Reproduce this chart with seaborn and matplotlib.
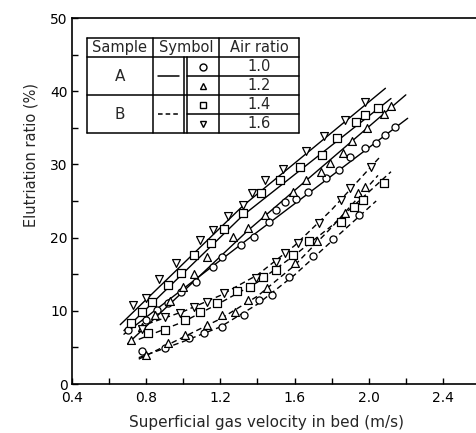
import matplotlib
matplotlib.use("Agg")
import matplotlib.pyplot as plt
import seaborn as sns
from matplotlib.lines import Line2D
from matplotlib.ticker import MultipleLocator, FixedLocator, FormatStrFormatter

# ---------------- data ----------------
# Sample A (solid lines) measured points
a10_x = [0.70, 0.80, 0.86, 0.92, 0.99, 1.07, 1.16, 1.21, 1.31, 1.38, 1.46, 1.50, 1.55, 1.61, 1.67, 1.77, 1.84, 1.90, 1.98, 2.04, 2.09, 2.14]
a10_y = [7.4, 8.7, 10.1, 11.0, 12.6, 13.9, 16.0, 17.3, 19.0, 20.1, 22.1, 23.8, 24.9, 25.3, 26.2, 28.1, 29.2, 31.0, 32.2, 32.9, 34.0, 35.1]
a12_x = [0.72, 0.78, 0.85, 0.93, 1.00, 1.06, 1.13, 1.27, 1.35, 1.44, 1.59, 1.66, 1.74, 1.79, 1.86, 1.91, 1.99, 2.08, 2.12]
a12_y = [6.0, 7.8, 9.4, 11.3, 13.2, 15.0, 17.3, 20.1, 21.3, 23.1, 26.2, 27.9, 29.0, 30.2, 31.6, 33.2, 35.0, 36.9, 38.0]
a14_x = [0.72, 0.78, 0.83, 0.92, 0.99, 1.06, 1.15, 1.22, 1.32, 1.42, 1.52, 1.63, 1.75, 1.83, 1.93, 1.98, 2.05]
a14_y = [8.3, 9.8, 11.2, 13.5, 15.2, 17.6, 19.3, 21.2, 23.4, 26.1, 27.9, 29.6, 31.3, 33.6, 35.8, 36.7, 37.7]
a16_x = [0.73, 0.80, 0.87, 0.96, 1.09, 1.16, 1.24, 1.32, 1.37, 1.44, 1.54, 1.66, 1.76, 1.87, 1.98]
a16_y = [10.8, 11.7, 14.3, 16.5, 19.7, 21.0, 23.0, 24.5, 26.1, 27.9, 29.4, 31.8, 33.9, 36.1, 38.5]

# Sample B (dashed lines) measured points
b10_x = [0.78, 0.90, 1.03, 1.11, 1.21, 1.33, 1.41, 1.48, 1.57, 1.70, 1.81, 1.95]
b10_y = [4.5, 4.9, 6.3, 7.0, 7.8, 9.4, 11.5, 12.2, 14.6, 17.5, 19.8, 23.1]
b12_x = [0.80, 0.92, 1.01, 1.13, 1.21, 1.28, 1.35, 1.45, 1.60, 1.72, 1.87, 1.94, 1.98]
b12_y = [4.0, 5.6, 6.7, 8.1, 9.4, 9.8, 11.5, 13.1, 16.5, 19.5, 23.4, 26.1, 26.9]
b14_x = [0.81, 0.90, 1.01, 1.09, 1.18, 1.29, 1.36, 1.43, 1.50, 1.59, 1.68, 1.85, 1.92, 1.97, 2.08]
b14_y = [7.0, 7.4, 8.7, 9.8, 11.1, 12.7, 13.3, 14.6, 15.6, 17.6, 19.5, 22.1, 24.2, 25.1, 27.5]
b16_x = [0.78, 0.90, 0.98, 1.06, 1.13, 1.22, 1.39, 1.50, 1.55, 1.62, 1.73, 1.85, 1.90, 2.01]
b16_y = [7.5, 9.2, 9.7, 10.5, 11.2, 12.4, 14.5, 16.7, 17.9, 19.3, 22.0, 25.1, 26.8, 29.6]

# fitted curves drawn through the points
fa10_x = [0.68, 1.38, 2.21]; fa10_y = [6.8, 20.4, 36.3]
fa12_x = [0.70, 1.35, 2.20]; fa12_y = [5.5, 21.0, 39.5]
fa14_x = [0.68, 1.32, 2.12]; fa14_y = [7.3, 23.0, 39.0]
fa16_x = [0.66, 1.32, 2.09]; fa16_y = [8.1, 24.3, 40.4]
fb10_x = [0.76, 1.0, 1.2, 1.4, 1.6, 1.8, 2.04]; fb10_y = [3.6, 5.8, 7.8, 10.9, 14.9, 19.5, 25.0]
fb12_x = [0.76, 1.0, 1.2, 1.4, 1.6, 1.8, 2.05]; fb12_y = [3.4, 6.4, 8.9, 12.0, 16.2, 21.4, 28.5]
fb14_x = [0.76, 1.0, 1.2, 1.4, 1.6, 1.8, 2.12]; fb14_y = [6.1, 8.5, 11.1, 13.9, 17.6, 21.6, 29.0]
fb16_x = [0.76, 1.0, 1.2, 1.4, 1.6, 1.8, 2.06]; fb16_y = [7.8, 9.9, 12.1, 14.9, 18.9, 23.8, 31.0]

air_ratios = ["1.0", "1.2", "1.4", "1.6"]
samples = ["A", "B"]
x_ticks = [0.4, 0.8, 1.2, 1.6, 2.0, 2.4]
y_ticks = [0, 10, 20, 30, 40, 50]
x_label = "Superficial gas velocity in bed (m/s)"
y_label = "Elutriation ratio (%)"

# ---------------- styling ----------------
sns.set_style("ticks")
plt.rcParams["font.family"] = ["DejaVu Sans"]

fig = plt.figure(figsize=(4.77, 4.33), dpi=100)
ax = fig.add_axes([72 / 477, 49 / 433, 408 / 477, 366 / 433])

DASH = (0, (4.0, 2.6))
marker_for = {"1.0": "o", "1.2": "^", "1.4": "s", "1.6": "v"}
size_for = {"1.0": 26, "1.2": 32, "1.4": 26, "1.6": 32}

fits = [
    (fa10_x, fa10_y, "-"), (fa12_x, fa12_y, "-"), (fa14_x, fa14_y, "-"), (fa16_x, fa16_y, "-"),
    (fb10_x, fb10_y, DASH), (fb12_x, fb12_y, DASH), (fb14_x, fb14_y, DASH), (fb16_x, fb16_y, DASH),
]
for fx_, fy_, ls in fits:
    sns.lineplot(x=fx_, y=fy_, ax=ax, color="black", lw=1.0, linestyle=ls,
                 estimator=None, sort=True, zorder=2)

pts = [
    (a10_x, a10_y, "1.0"), (a12_x, a12_y, "1.2"), (a14_x, a14_y, "1.4"), (a16_x, a16_y, "1.6"),
    (b10_x, b10_y, "1.0"), (b12_x, b12_y, "1.2"), (b14_x, b14_y, "1.4"), (b16_x, b16_y, "1.6"),
]
for px, py, ar in pts:
    sns.scatterplot(x=px, y=py, ax=ax, marker=marker_for[ar], s=size_for[ar],
                    color="white", edgecolor="black", linewidth=0.9, zorder=3)

ax.set_xlim(0.4, 2.6)
ax.set_ylim(0, 50)
ax.xaxis.set_major_locator(FixedLocator(x_ticks))
ax.xaxis.set_minor_locator(MultipleLocator(0.2))
ax.yaxis.set_major_locator(FixedLocator(y_ticks))
ax.yaxis.set_minor_locator(MultipleLocator(5))
ax.xaxis.set_major_formatter(FormatStrFormatter("%.1f"))
ax.tick_params(which="both", direction="in", length=4, width=1, colors="black")
ax.tick_params(axis="x", which="major", pad=5, labelsize=10)
ax.tick_params(axis="y", which="major", pad=3, labelsize=10)
ax.spines["right"].set_visible(False)
for s in ["left", "bottom", "top"]:
    ax.spines[s].set_linewidth(1.2)
    ax.spines[s].set_color("black")

ax.set_xlabel(x_label, fontsize=11)
ax.set_ylabel(y_label, fontsize=10.5)
ax.xaxis.set_label_coords(0.476, -0.085)
ax.yaxis.set_label_coords(-0.082, 0.626)

# ---------------- table-style legend (axes fraction coords) ----------------
T = ax.transAxes
def fx(px):
    return (px - 72) / 408
def fy(py):
    return (384 - py) / 366

xl, xs, xd1, xd2, xa, xr = fx(87), fx(153), fx(184), fx(187.5), fx(219), fx(299)
rows = [fy(38), fy(57), fy(76), fy(95), fy(114), fy(133)]
lw = 1.1
def hl(y, x0, x1):
    ax.add_line(Line2D([x0, x1], [y, y], transform=T, color="black", lw=lw, zorder=5))
def vl(x, y0, y1):
    ax.add_line(Line2D([x, x], [y0, y1], transform=T, color="black", lw=lw, zorder=5))

hl(rows[0], xl, xr)
hl(rows[1], xl, xr)
hl(rows[3], xl, xr)
hl(rows[5], xl, xr)
hl(rows[2], xd2, xr)
hl(rows[4], xd2, xr)
for xx in [xl, xs, xa, xr]:
    vl(xx, rows[5], rows[0])
vl(xd1, rows[5], rows[1])
vl(xd2, rows[5], rows[1])

hdr_y = (rows[0] + rows[1]) / 2
ax.text((xl + xs) / 2, hdr_y, "Sample", transform=T, ha="center", va="center", fontsize=10.5, zorder=6)
ax.text((xs + xa) / 2, hdr_y, "Symbol", transform=T, ha="center", va="center", fontsize=10.5, zorder=6)
ax.text((xa + xr) / 2, hdr_y, "Air ratio", transform=T, ha="center", va="center", fontsize=10.5, zorder=6)

for i, smp in enumerate(samples):
    yc = (rows[1 + 2 * i] + rows[3 + 2 * i]) / 2
    ax.text((xl + xs) / 2, yc, smp, transform=T, ha="center", va="center", fontsize=11, zorder=6)
    ls = "-" if i == 0 else (0, (3.0, 2.0))
    ax.add_line(Line2D([fx(158), fx(179)], [yc, yc], transform=T, color="black",
                       lw=1.1, linestyle=ls, zorder=6))

for i, ar in enumerate(air_ratios):
    yc = (rows[1 + i] + rows[2 + i]) / 2
    ax.text((xa + xr) / 2, yc, ar, transform=T, ha="center", va="center", fontsize=10.5, zorder=6)
    ax.plot([(xd2 + xa) / 2], [yc], transform=T, marker=marker_for[ar], ms=5,
            mfc="white", mec="black", mew=1.0, ls="none", zorder=6)

fig.savefig("out.png", dpi=100)
